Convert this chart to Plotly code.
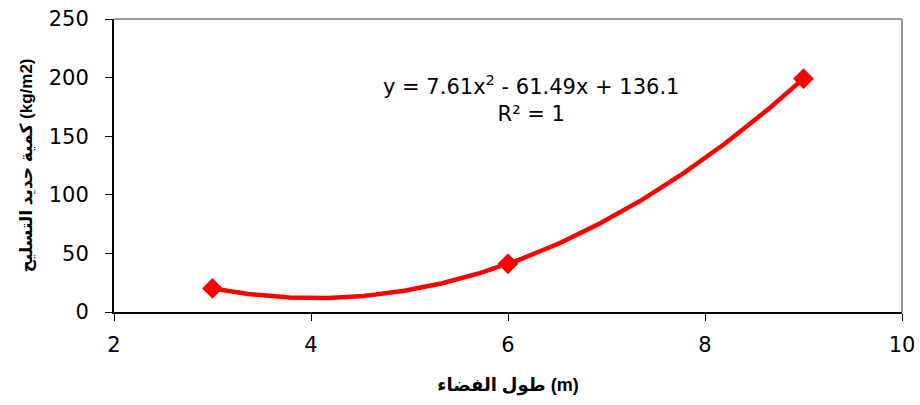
import numpy as np
import plotly.graph_objects as go

span_m = [3, 6, 9]
steel_kg_m2 = [20.1, 41.1, 199.1]
x_ticks = [2, 4, 6, 8, 10]
y_ticks = [0, 50, 100, 150, 200, 250]
eq_text = "y = 7.61x<sup>2</sup> - 61.49x + 136.1<br>R² = 1"
x_title = "<b>طول الفضاء (m)</b>"
y_title = "<b>كمية حديد التسليح (kg/m2)</b>"

coef = np.polyfit(span_m, steel_kg_m2, 2)
xs = np.linspace(min(span_m), max(span_m), 200)
ys = np.polyval(coef, xs)

FONT = "Liberation Sans, Arial, DejaVu Sans, sans-serif"
WIDE = "DejaVu Sans, Liberation Sans, sans-serif"
RED = "#ff0000"

fig = go.Figure()
fig.add_trace(go.Scatter(x=xs, y=ys, mode="lines",
                         line=dict(color=RED, width=4.5), hoverinfo="skip",
                         showlegend=False))
fig.add_trace(go.Scatter(x=span_m, y=steel_kg_m2, mode="markers",
                         marker=dict(symbol="diamond", size=16, color=RED),
                         showlegend=False))

fig.add_annotation(x=0.529, y=0.728, xref="paper", yref="paper",
                   xanchor="center", yanchor="middle",
                   text=eq_text, showarrow=False, align="center",
                   font=dict(family=WIDE, size=21, color="black"))

fig.update_layout(
    width=920, height=405,
    margin=dict(l=114, r=18, t=19, b=93, autoexpand=False),
    paper_bgcolor="white", plot_bgcolor="white",
    font=dict(family=FONT, color="black"),
    shapes=[
        dict(type="line", xref="paper", yref="paper", x0=0, x1=1, y0=1, y1=1,
             line=dict(color="#999999", width=2)),
        dict(type="line", xref="paper", yref="paper", x0=1, x1=1, y0=0, y1=1,
             line=dict(color="#999999", width=2)),
    ],
)
fig.update_xaxes(range=[2, 10], tickvals=x_ticks, showgrid=False, zeroline=False,
                 showline=True, linecolor="black", linewidth=2, automargin=False,
                 ticks="outside", ticklen=7, tickcolor="black", tickwidth=1,
                 ticklabelstandoff=6, ticklabeloverflow="allow",
                 tickfont=dict(family=WIDE, size=21),
                 title=dict(text=x_title, font=dict(family=FONT, size=18),
                            standoff=22))
fig.update_yaxes(range=[0, 250], tickvals=y_ticks, showgrid=False, zeroline=False,
                 showline=True, linecolor="black", linewidth=2, automargin=False,
                 ticks="outside", ticklen=7, tickcolor="black", tickwidth=1,
                 ticklabelstandoff=12,
                 tickfont=dict(family=WIDE, size=21),
                 title=dict(text=y_title, font=dict(family=FONT, size=17),
                            standoff=12))

fig.write_html("out.html",
               config={"displayModeBar": False},
               post_script="document.body.style.margin='0';document.body.style.overflow='hidden';")
